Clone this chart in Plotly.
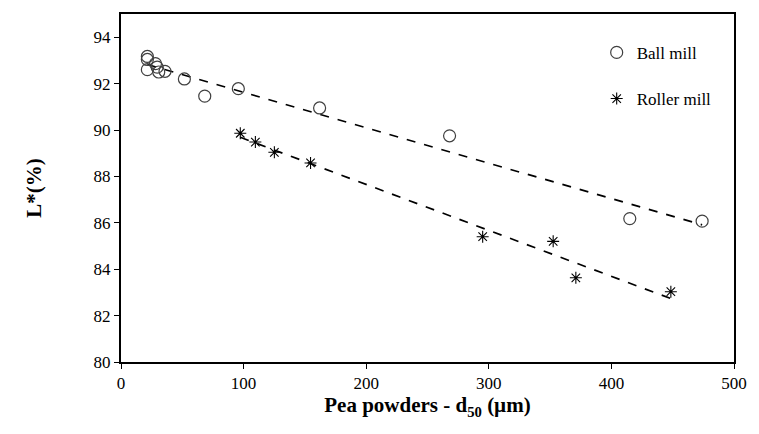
import numpy as np
import plotly.graph_objects as go

ball_x = [21.5, 21.5, 21.5, 28.1, 29.5, 30.8, 35.9, 51.7, 68.3, 95.7, 162.0, 268.0, 415.0, 474.0]
ball_y = [93.17, 93.04, 92.6, 92.86, 92.71, 92.5, 92.53, 92.2, 91.46, 91.78, 90.95, 89.75, 86.18, 86.07]

roller_x = [97.3, 109.6, 125.1, 154.6, 295.0, 352.5, 371.0, 448.5]
roller_y = [89.86, 89.48, 89.04, 88.58, 85.4, 85.2, 83.63, 83.03]

x_ticks = [0, 100, 200, 300, 400, 500]
y_ticks = [80, 82, 84, 86, 88, 90, 92, 94]

font_family = "Liberation Serif, Times New Roman, serif"

fig = go.Figure()

# trend lines (linear fits)
for xs, ys in [(ball_x, ball_y), (roller_x, roller_y)]:
    k, b = np.polyfit(xs, ys, 1)
    lx = np.array([min(xs), max(xs)])
    fig.add_trace(go.Scatter(x=lx, y=k * lx + b, mode="lines",
                             line=dict(color="black", width=1.7, dash="dash"),
                             showlegend=False, hoverinfo="skip"))

fig.add_trace(go.Scatter(x=ball_x, y=ball_y, mode="markers", name="Ball mill",
                         legendgroup="a",
                         marker=dict(symbol="circle-open", size=12,
                                     color="#404040", line=dict(width=1.2))))
fig.add_trace(go.Scatter(x=roller_x, y=roller_y, mode="markers", name="Roller mill",
                         legendgroup="b",
                         marker=dict(symbol="asterisk-open", size=10,
                                     color="black", line=dict(width=1.1))))

fig.update_layout(
    width=759, height=434,
    margin=dict(l=121, r=16, t=13, b=72),
    paper_bgcolor="white", plot_bgcolor="white",
    font=dict(family=font_family, size=17, color="black"),
    showlegend=True,
    legend=dict(x=0.776, y=0.94, xanchor="left", yanchor="top",
                bgcolor="rgba(0,0,0,0)", traceorder="grouped",
                tracegroupgap=21, font=dict(size=17, family=font_family)),
    xaxis=dict(range=[0, 500], tickvals=x_ticks, ticks="outside", ticklen=5,
               tickwidth=1.3, tickcolor="black", showline=True, linecolor="black",
               linewidth=2, mirror=True, showgrid=False, zeroline=False,
               tickfont=dict(size=17),
               title=dict(text="<b>Pea powders - d<sub>50</sub> (µm)</b>",
                          font=dict(size=21), standoff=3)),
    yaxis=dict(range=[80, 95], tickvals=y_ticks, ticks="outside", ticklen=5,
               tickwidth=1.3, tickcolor="black", showline=True, linecolor="black",
               linewidth=2, mirror=True, showgrid=False, zeroline=False,
               tickfont=dict(size=17),
               title=dict(text="<b>L*(%)</b>", font=dict(size=21), standoff=46)),
)

fig.write_html("out.html")
